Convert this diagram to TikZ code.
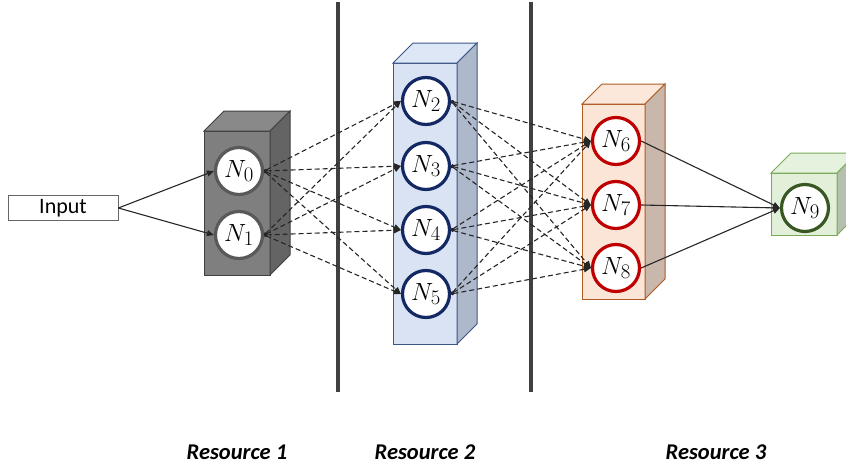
\documentclass[tikz,border=0pt]{standalone}
\usepackage{fontspec}
\setsansfont{Carlito}
\usetikzlibrary{arrows.meta,positioning}
% colours of the resource boxes
\definecolor{grayfront}{RGB}{127,127,127}
\definecolor{graytop}{RGB}{137,137,137}
\definecolor{grayside}{RGB}{100,100,100}
\definecolor{grayedge}{RGB}{64,64,64}
\definecolor{grayring}{RGB}{89,89,89}
\definecolor{bluefront}{RGB}{218,227,243}
\definecolor{bluetop}{RGB}{222,231,245}
\definecolor{blueside}{RGB}{173,185,202}
\definecolor{blueedge}{RGB}{60,85,135}
\definecolor{bluering}{RGB}{20,40,100}
\definecolor{orangefront}{RGB}{251,229,214}
\definecolor{orangetop}{RGB}{252,232,218}
\definecolor{orangeside}{RGB}{201,183,172}
\definecolor{orangeedge}{RGB}{174,90,33}
\definecolor{orangering}{RGB}{192,0,0}
\definecolor{greenfront}{RGB}{226,240,217}
\definecolor{greentop}{RGB}{229,242,221}
\definecolor{greenside}{RGB}{181,192,174}
\definecolor{greenedge}{RGB}{120,170,90}
\definecolor{greenring}{RGB}{56,87,35}
\tikzset{
    neuron/.style={
        circle,line width=3.2pt,fill=white,
        minimum size=47pt,inner sep=0pt,
        font=\fontsize{24.88}{28}\selectfont
    },
    >={Triangle[length=7pt,width=6pt]},
    link/.style={line width=1.1pt,black!85,->},
    dlink/.style={link,dash pattern=on 5pt off 3pt,{Circle[length=3pt]}->},
    reslabel/.style={font=\sffamily\bfseries\itshape\fontsize{22.5}{26}\selectfont},
}
% box with front face (#1,#2)--(#3,#4), colour set #5
\newcommand{\resbox}[5]{%
    \filldraw[draw=#5edge,fill=#5front,line width=1pt] (#1,#2) rectangle (#3,#4);
    \filldraw[draw=#5edge,fill=#5top,line width=1pt] (#1,#2) -- (#1+20,#2-20) -- (#3+20,#2-20) -- (#3,#2) -- cycle;
    \filldraw[draw=#5edge,fill=#5side,line width=1pt] (#3,#2) -- (#3+20,#2-20) -- (#3+20,#4-20) -- (#3,#4) -- cycle;
}

\begin{document}
\begin{tikzpicture}[x=1pt,y=-1pt]
    \useasboundingbox (0,0) rectangle (846,466);
    \clip (0,0) rectangle (846,466);
    % resource borders
    \draw[line width=3.5pt,black!75] (338,2) -- (338,392);
    \draw[line width=3.5pt,black!75] (531,2) -- (531,392);
    % boxes
    \resbox{204}{131}{270}{275}{gray}
    \resbox{393}{63}{457}{344}{blue}
    \resbox{582}{104}{645}{299}{orange}
    \resbox{771}{173}{837}{235}{green}
    % neurons
    \node[draw=black!60,line width=0.8pt,minimum width=110pt,minimum height=25pt,
        inner sep=0pt,font=\sffamily\fontsize{22}{26}\selectfont] (input) at (63,208) {Input};
    \foreach \i/\y in {0/171,1/235}
        \node[neuron,draw=grayring] (N\i) at (239,\y) {$N_\i$};
    \foreach \i/\y in {2/101,3/166,4/230,5/294}
        \node[neuron,draw=bluering] (N\i) at (426,\y) {$N_\i$};
    \foreach \i/\y in {6/141,7/205,8/268}
        \node[neuron,draw=orangering] (N\i) at (616,\y) {$N_\i$};
    \node[neuron,draw=greenring] (N9) at (805,208) {$N_9$};
    % connections
    \foreach \a in {0,1}
        \draw[link] (input.east) -- (N\a.west);
    \foreach \a in {0,1}
        \foreach \b in {2,...,5}
            \draw[dlink] (N\a.east) -- (N\b.west);
    \foreach \a in {2,...,5}
        \foreach \b in {6,7,8}
            \draw[dlink] (N\a.east) -- (N\b.west);
    \foreach \a in {6,7,8}
        \draw[link] (N\a.east) -- (N9.west);
    % labels
    \node[reslabel] (res1) at (237,452) {Resource 1};
    \node[reslabel] (res2) at (425,452) {Resource 2};
    \node[reslabel] (res3) at (716,452) {Resource 3};
\end{tikzpicture}
\end{document}
